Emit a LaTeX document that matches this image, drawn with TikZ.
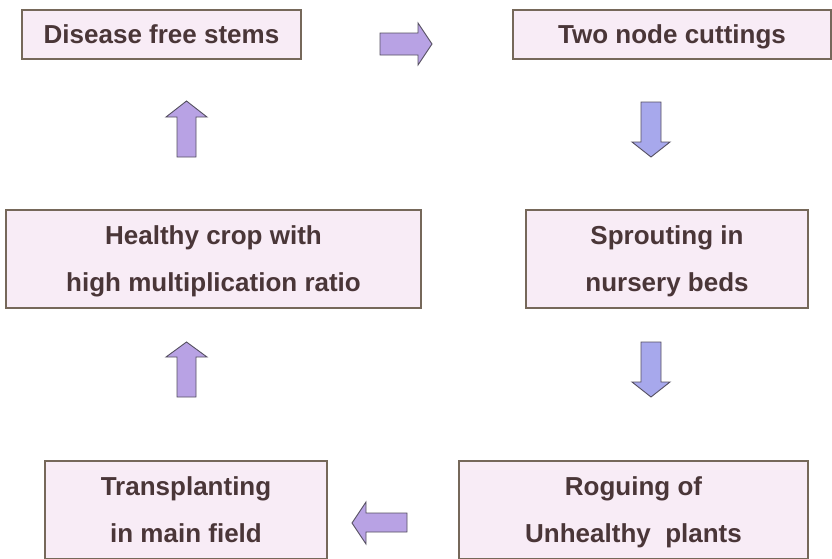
\documentclass[tikz,border=0pt]{standalone}
\usepackage{fontspec}
\setmainfont{Liberation Sans}
\definecolor{boxline}{HTML}{76685A}
\definecolor{boxfill}{HTML}{F8ECF6}
\definecolor{txt}{HTML}{4A3638}
\definecolor{arrline}{HTML}{555060}
\definecolor{upfill}{HTML}{B8A2E4}
\definecolor{downfill}{HTML}{A7A8EC}
\begin{document}
\begin{tikzpicture}[x=1pt,y=-1pt,
  box/.style={draw=boxline, line width=1.2pt, fill=boxfill, inner sep=0pt, align=center,
    text=txt, text depth=0pt, font=\fontsize{26}{47}\selectfont\bfseries},
  barrow/.style={draw=arrline, line width=0.9pt, line join=miter}]
\useasboundingbox (0,0) rectangle (832,558);
\clip (0,0) rectangle (832,558);
% boxes
\node[box, minimum width=279pt, minimum height=49pt] (b1) at (161.5,34.5) {Disease free stems};
\node[box, minimum width=318pt, minimum height=49pt] (b2) at (672,34.5) {Two node cuttings};
\node[box, minimum width=415pt, minimum height=98pt] (b3) at (213.5,259) {Healthy crop with\\high multiplication ratio};
\node[box, minimum width=282pt, minimum height=98pt] (b4) at (667,259) {Sprouting in\\nursery beds};
\node[box, minimum width=282pt, minimum height=98pt] (b5) at (186,510) {Transplanting\\in main field};
\node[box, minimum width=349pt, minimum height=98pt] (b6) at (633.5,510) {Roguing of\\Unhealthy\ \ plants};
% block arrows
% right arrow (b1 -> b2)
\draw[barrow, fill=upfill] (380,33) -- (418,33) -- (418,23) -- (432,44) -- (418,65) -- (418,55) -- (380,55) -- cycle;
% down arrow (b2 -> b4)
\draw[barrow, fill=downfill] (641,102) -- (661,102) -- (661,142) -- (670,142) -- (651,157) -- (632,142) -- (641,142) -- cycle;
% down arrow (b4 -> b6)
\draw[barrow, fill=downfill] (641,342) -- (661,342) -- (661,382) -- (670,382) -- (651,397) -- (632,382) -- (641,382) -- cycle;
% left arrow (b6 -> b5)
\draw[barrow, fill=upfill] (407,513) -- (366,513) -- (366,502) -- (352,523) -- (366,544) -- (366,532) -- (407,532) -- cycle;
% up arrow (b5 -> b3)
\draw[barrow, fill=upfill] (177,397) -- (196,397) -- (196,357) -- (207,357) -- (186.5,342) -- (166,357) -- (177,357) -- cycle;
% up arrow (b3 -> b1)
\draw[barrow, fill=upfill] (177,157) -- (196,157) -- (196,117) -- (207,117) -- (186.5,101) -- (166,117) -- (177,117) -- cycle;
\end{tikzpicture}
\end{document}
